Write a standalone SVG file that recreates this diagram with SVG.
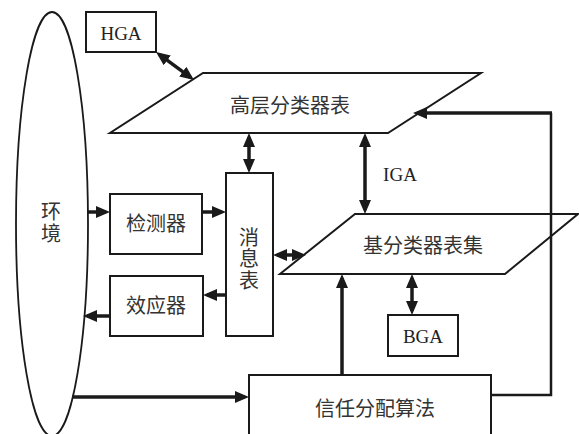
<svg xmlns="http://www.w3.org/2000/svg" width="579" height="434" viewBox="0 0 579 434">
<style>
.box{fill:#fff;stroke:#1a1a1a;stroke-width:2}
.lbl{font-family:"Liberation Serif","Noto Sans CJK SC",serif;font-size:20px;fill:#333;text-anchor:middle;dominant-baseline:central}
.lat{font-family:"Liberation Serif","Noto Sans CJK SC",serif;font-size:19px;fill:#222;text-anchor:middle;dominant-baseline:central}
.arr{fill:none;stroke:#1a1a1a;stroke-width:3.5}
.thin{fill:none;stroke:#1a1a1a;stroke-width:2.5}
</style>
<defs>
<marker id="ah" markerUnits="userSpaceOnUse" markerWidth="14" markerHeight="14" viewBox="0 0 14 14" refX="10" refY="7" orient="auto-start-reverse">
<path d="M0,1 L14,7 L0,13 z" fill="#1a1a1a"/>
</marker>
</defs>
<rect width="579" height="434" fill="#fff"/>
<g id="env">
<ellipse cx="52" cy="224" rx="36" ry="212" fill="none" stroke="#1a1a1a" stroke-width="1.8"/>
<text class="lbl" x="51" y="212">环</text>
<text class="lbl" x="51" y="234">境</text>
</g>
<g id="hga">
<rect class="box" x="86" y="12" width="70" height="40"/>
<text class="lat" x="121" y="33">HGA</text>
</g>
<g id="upper">
<polygon class="box" points="203,73 481,73 388,133 110,133"/>
<text class="lbl" x="290" y="106">高层分类器表</text>
</g>
<g id="detector">
<rect class="box" x="110" y="194" width="92" height="60"/>
<text class="lbl" x="156" y="224">检测器</text>
</g>
<g id="effector">
<rect class="box" x="110" y="276" width="93" height="60"/>
<text class="lbl" x="156" y="306">效应器</text>
</g>
<g id="msg">
<rect class="box" x="226" y="173" width="47" height="163"/>
<text class="lbl" x="249" y="238">消</text>
<text class="lbl" x="249" y="259">息</text>
<text class="lbl" x="249" y="281">表</text>
</g>
<g id="lower">
<polygon class="box" points="355,214 578,214 505,274 280,274"/>
<text class="lbl" x="423" y="246">基分类器表集</text>
</g>
<g id="bga">
<rect class="box" x="388" y="315" width="70" height="41"/>
<text class="lat" x="423" y="336">BGA</text>
</g>
<g id="trust">
<rect class="box" x="249" y="375" width="242" height="70"/>
<text class="lbl" x="375" y="409">信任分配算法</text>
</g>
<text class="lat" x="400" y="174">IGA</text>
<g id="connectors">
<line class="arr" x1="159.2" y1="54.4" x2="190.8" y2="77.6" marker-start="url(#ah)" marker-end="url(#ah)"/>
<line class="arr" x1="249" y1="137" x2="249" y2="169" marker-start="url(#ah)" marker-end="url(#ah)"/>
<line class="arr" x1="365" y1="137" x2="365" y2="210" marker-start="url(#ah)" marker-end="url(#ah)"/>
<line class="arr" x1="277" y1="255" x2="302" y2="255" marker-start="url(#ah)" marker-end="url(#ah)"/>
<line class="arr" x1="412" y1="278" x2="412" y2="311" marker-start="url(#ah)" marker-end="url(#ah)"/>
<line class="arr" x1="88" y1="212" x2="106" y2="212" marker-end="url(#ah)"/>
<line class="arr" x1="202" y1="212" x2="222" y2="212" marker-end="url(#ah)"/>
<line class="arr" x1="226" y1="295" x2="207" y2="295" marker-end="url(#ah)"/>
<line class="arr" x1="110" y1="316" x2="87" y2="316" marker-end="url(#ah)"/>
<line class="arr" x1="342" y1="375" x2="342" y2="278" marker-end="url(#ah)"/>
<line class="arr" x1="72" y1="397" x2="245" y2="397" marker-end="url(#ah)"/>
<polyline class="thin" points="491,395 551,395 551,113"/>
<line class="arr" x1="552" y1="113" x2="417" y2="113" marker-end="url(#ah)"/>
</g>
</svg>
